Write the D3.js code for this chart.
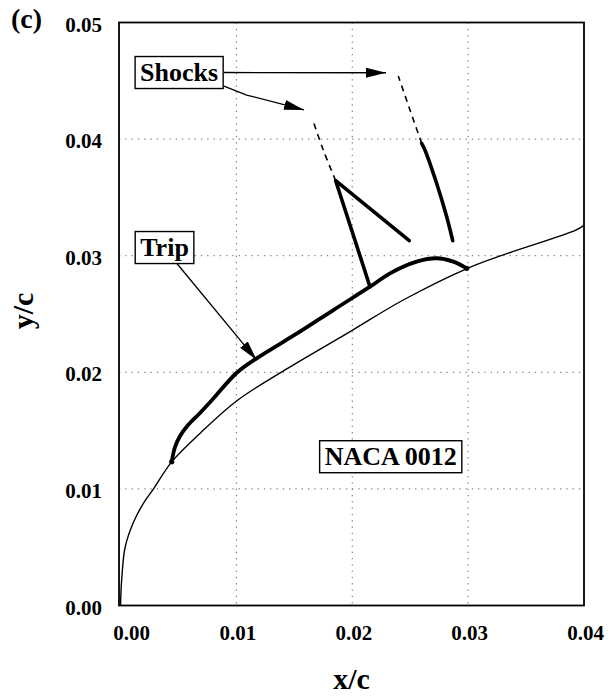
<!DOCTYPE html>
<html>
<head>
<meta charset="utf-8">
<script src="https://cdn.jsdelivr.net/npm/d3@7"></script>
<style>
  html, body { margin: 0; padding: 0; background: #fff; }
  svg { display: block; font-family: "Liberation Serif", "Times New Roman", serif; }
</style>
</head>
<body>
<svg id="chart" width="608" height="696"></svg>
<script>
// NACA 0012 surface near the leading edge (x/c, y/c)
const airfoilX = [0, 0.0001, 0.0004, 0.0011, 0.0020, 0.00285, 0.0044, 0.0069, 0.0101, 0.0142, 0.0200, 0.0244, 0.0299, 0.0331, 0.0393, 0.0400];
const airfoilY = [0, 0.0022, 0.0050, 0.0071, 0.0088, 0.0100, 0.0123, 0.0148, 0.0176, 0.0202, 0.0236, 0.0262, 0.0289, 0.0301, 0.0322, 0.0326];

// Displaced flow boundary from the trip to reattachment
const layerX = [0.00442, 0.00470, 0.00514, 0.00583, 0.00686, 0.00790, 0.01001, 0.01175, 0.01548, 0.01837, 0.02153, 0.02326, 0.02556, 0.02728, 0.02872, 0.02988];
const layerY = [0.01233, 0.01359, 0.01454, 0.01548, 0.01651, 0.01762, 0.01994, 0.02120, 0.02348, 0.02534, 0.02734, 0.02849, 0.02949, 0.02978, 0.02949, 0.02892];

// Lambda shock: front leg, rear leg, and its faint extension
const shock1FrontX = [0.02153, 0.01857];
const shock1FrontY = [0.02734, 0.03643];
const shock1RearX = [0.01857, 0.02492];
const shock1RearY = [0.03643, 0.03129];
const shock1DashX = [0.01857, 0.01750, 0.01664];
const shock1DashY = [0.03643, 0.03906, 0.04149];

// Rear shock: solid part and faint extension
const shock2X = [0.02867, 0.02815, 0.02728, 0.02627, 0.02599];
const shock2Y = [0.03129, 0.03334, 0.03621, 0.03907, 0.03964];
const shock2DashX = [0.02599, 0.02498, 0.02397];
const shock2DashY = [0.03964, 0.04250, 0.04541];

// Axis ticks
const xTicks = [0, 0.01, 0.02, 0.03, 0.04];
const yTicks = [0, 0.01, 0.02, 0.03, 0.04, 0.05];
const xTickLabels = ["0.00", "0.01", "0.02", "0.03", "0.04"];
const yTickLabels = ["0.00", "0.01", "0.02", "0.03", "0.04", "0.05"];

// Annotation labels (anchor points in data units)
const labelNames = ["Shocks", "Trip", "NACA 0012"];
const labelX = [0.00506, 0.00380, 0.02332];
const labelY = [0.04571, 0.03070, 0.01276];

// Leader arrows: start and tip points in data units
const arrowStartX = [0.00893, 0.00893, 0.00485];
const arrowStartY = [0.04571, 0.04455, 0.02935];
const arrowMidX = [null, 0.01089, null];
const arrowMidY = [null, 0.04378, null];
const arrowTipX = [0.02291, 0.01584, 0.01175];
const arrowTipY = [0.04569, 0.04250, 0.02105];

const svg = d3.select("#chart");
const plotLeft = 119, plotRight = 584, plotTop = 22.5, plotBottom = 605.5;

const x = d3.scaleLinear().domain([-0.00013, 0.04]).range([plotLeft, plotRight]);
const y = d3.scaleLinear().domain([0, 0.05]).range([plotBottom, plotTop]);

const zip = (xs, ys) => xs.map((v, i) => [v, ys[i]]);
const line = d3.line().x(d => x(d[0])).y(d => y(d[1]));
const smooth = d3.line().x(d => x(d[0])).y(d => y(d[1])).curve(d3.curveCatmullRom.alpha(0.5));

// Dotted grid
const grid = svg.append("g").attr("stroke", "#666").attr("stroke-width", 1)
  .attr("stroke-dasharray", "1.3,5").attr("fill", "none");
[0.01, 0.02, 0.03].forEach(v => {
  grid.append("line").attr("x1", x(v)).attr("x2", x(v)).attr("y1", plotTop).attr("y2", plotBottom);
});
[0.01, 0.02, 0.03, 0.04].forEach(v => {
  grid.append("line").attr("x1", plotLeft).attr("x2", plotRight).attr("y1", y(v)).attr("y2", y(v));
});

// Axes (labels only, no tick marks) drawn with d3 axis generators
const xAxis = svg.append("g").attr("transform", `translate(0,${plotBottom})`)
  .call(d3.axisBottom(x).tickValues(xTicks).tickSize(0).tickPadding(0)
    .tickFormat((d, i) => xTickLabels[i]));
xAxis.select(".domain").remove();
xAxis.selectAll("text")
  .attr("y", 0).attr("dy", 0)
  .attr("transform", "translate(0,34.5)")
  .attr("dx", (d, i) => i === 0 ? 10.5 : 1)
  .attr("font-family", "Liberation Serif, serif")
  .attr("font-size", 21).attr("font-weight", "bold").attr("fill", "#000");

const yAxis = svg.append("g").attr("transform", `translate(${plotLeft},0)`)
  .call(d3.axisLeft(y).tickValues(yTicks).tickSize(0).tickPadding(0)
    .tickFormat((d, i) => yTickLabels[i]));
yAxis.select(".domain").remove();
yAxis.selectAll("text")
  .attr("x", -17).attr("dy", 0)
  .attr("transform", "translate(0,8.5)")
  .attr("font-family", "Liberation Serif, serif")
  .attr("font-size", 21).attr("font-weight", "bold").attr("fill", "#000");

// Plot frame
svg.append("rect")
  .attr("x", plotLeft).attr("y", plotTop).attr("width", plotRight - plotLeft).attr("height", plotBottom - plotTop)
  .attr("fill", "none").attr("stroke", "#000").attr("stroke-width", 1.8);

// Arrowhead marker
svg.append("defs").append("marker")
  .attr("id", "head").attr("viewBox", "0 0 20 10")
  .attr("refX", 20).attr("refY", 5)
  .attr("markerWidth", 20).attr("markerHeight", 10)
  .attr("markerUnits", "userSpaceOnUse").attr("orient", "auto")
  .append("path").attr("d", "M0,0 L20,5 L0,10 Z").attr("fill", "#000");

// Airfoil surface
svg.append("path").datum(zip(airfoilX, airfoilY))
  .attr("d", smooth).attr("fill", "none").attr("stroke", "#000").attr("stroke-width", 1.4);

// Thick boundary curve
svg.append("path").datum(zip(layerX, layerY))
  .attr("d", smooth).attr("fill", "none").attr("stroke", "#000")
  .attr("stroke-width", 3.8).attr("stroke-linecap", "round");
[0, layerX.length - 1].forEach(i => {
  svg.append("circle").attr("cx", x(layerX[i])).attr("cy", y(layerY[i])).attr("r", 2.6).attr("fill", "#000");
});

// Shocks
const solidShock = (xs, ys, fn) => svg.append("path").datum(zip(xs, ys))
  .attr("d", fn).attr("fill", "none").attr("stroke", "#000")
  .attr("stroke-width", 3.6).attr("stroke-linecap", "round");
solidShock(shock1FrontX, shock1FrontY, line);
solidShock(shock1RearX, shock1RearY, line);
solidShock(shock2X, shock2Y, smooth);

const dashedShock = (xs, ys) => svg.append("path").datum(zip(xs, ys))
  .attr("d", smooth).attr("fill", "none").attr("stroke", "#000")
  .attr("stroke-width", 1.6).attr("stroke-dasharray", "6,5");
dashedShock(shock1DashX, shock1DashY);
dashedShock(shock2DashX, shock2DashY);

// Leader arrows
arrowStartX.forEach((sx, i) => {
  const pts = [[sx, arrowStartY[i]]];
  if (arrowMidX[i] !== null) pts.push([arrowMidX[i], arrowMidY[i]]);
  pts.push([arrowTipX[i], arrowTipY[i]]);
  svg.append("path").datum(pts).attr("d", line)
    .attr("fill", "none").attr("stroke", "#000").attr("stroke-width", 1.3)
    .attr("marker-end", "url(#head)");
});

// Boxed labels
labelNames.forEach((name, i) => {
  const g = svg.append("g");
  const t = g.append("text")
    .attr("x", x(labelX[i])).attr("y", y(labelY[i]))
    .attr("text-anchor", "middle").attr("dominant-baseline", "central")
    .attr("font-size", 26).attr("font-weight", "bold").attr("fill", "#000")
    .text(name);
  const bb = t.node().getBBox();
  g.insert("rect", "text")
    .attr("x", bb.x - 5).attr("y", y(labelY[i]) - 16)
    .attr("width", bb.width + 10).attr("height", 32)
    .attr("fill", "#fff").attr("stroke", "#000").attr("stroke-width", 1.4);
});

// Titles
svg.append("text").attr("x", 11).attr("y", 28)
  .attr("font-size", 28).attr("font-weight", "bold").text("(c)");
svg.append("text").attr("x", (plotLeft + plotRight) / 2).attr("y", 689)
  .attr("text-anchor", "middle").attr("font-size", 30).attr("font-weight", "bold").text("x/c");
svg.append("text").attr("transform", "translate(33,311) rotate(-90)")
  .attr("text-anchor", "middle").attr("font-size", 30).attr("font-weight", "bold").text("y/c");
</script>
</body>
</html>
